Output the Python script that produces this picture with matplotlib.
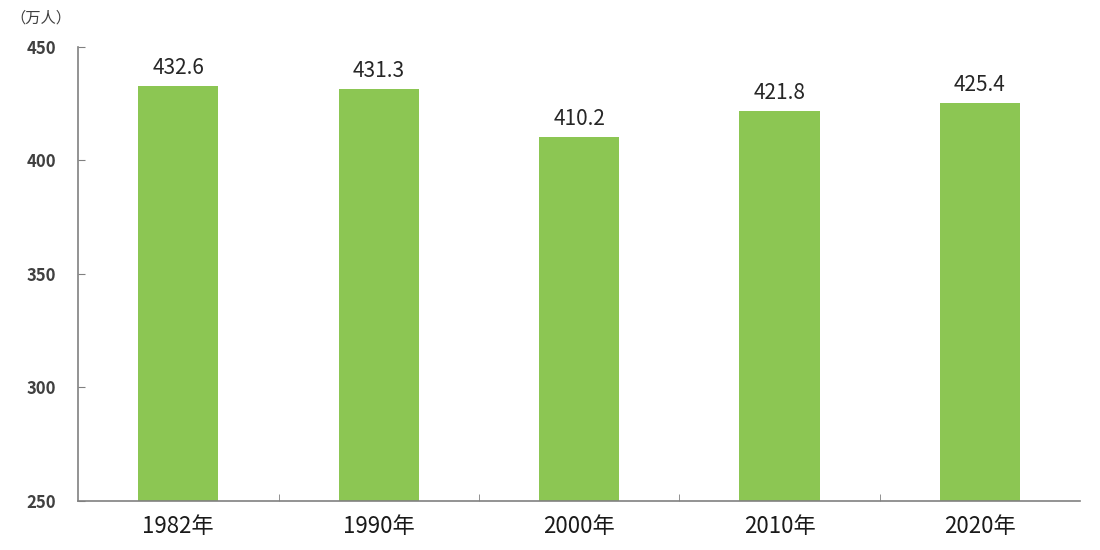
import matplotlib
matplotlib.use('Agg')
import matplotlib.pyplot as plt
from matplotlib.ticker import FixedLocator

plt.rcParams['font.family'] = ['Noto Sans CJK SC', 'DejaVu Sans']

years = ['1982年', '1990年', '2000年', '2010年', '2020年']
population = [432.6, 431.3, 410.2, 421.8, 425.4]
y_ticks = [250, 300, 350, 400, 450]

fig = plt.figure(figsize=(11, 5.5), dpi=100)
ax = fig.add_axes([0.071, 0.089, 0.911, 0.826])

x = range(len(years))
ax.bar(x, [p - 250 for p in population], bottom=250, width=0.4, color='#8cc653')

for i, v in zip(x, population):
    ax.text(i, v + 3, f'{v:.1f}', ha='center', va='bottom',
            fontsize=15, color='#262626')

ax.set_xlim(-0.5, len(years) - 0.5)
ax.set_ylim(250, 450)
ax.set_yticks(y_ticks)
ax.set_yticklabels([str(t) for t in y_ticks], fontsize=12, fontweight='bold',
                   color='#404040')
ax.set_xticks(list(x))
ax.set_xticklabels(years, fontsize=16, color='#1a1a1a')
ax.xaxis.set_minor_locator(FixedLocator([i + 0.5 for i in range(len(years) - 1)]))

ax.tick_params(axis='x', which='major', length=0, pad=10)
ax.tick_params(axis='x', which='minor', direction='in', length=5, color='#808080')
ax.tick_params(axis='y', direction='in', length=5, color='#808080', pad=16)

for s in ['top', 'right']:
    ax.spines[s].set_visible(False)
for s in ['left', 'bottom']:
    ax.spines[s].set_color('#808080')
    ax.spines[s].set_linewidth(1.2)

fig.text(0.009, 0.968, '（万人）', fontsize=11, color='#404040', va='center')

fig.savefig('out.png', dpi=100)
